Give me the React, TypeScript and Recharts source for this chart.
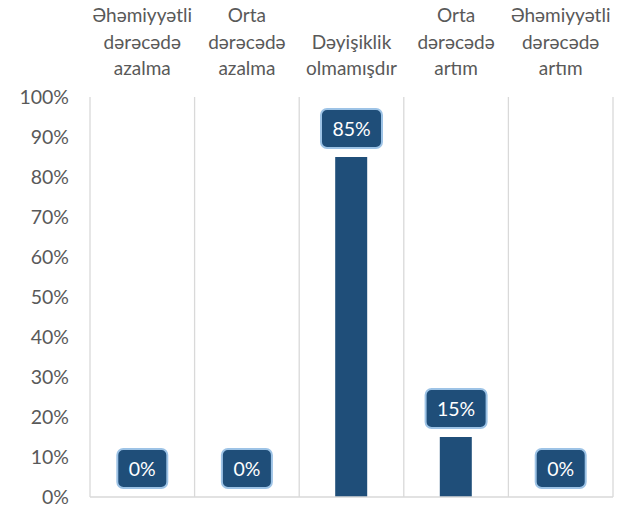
import React from "react";
import { ComposedChart, Bar, Line, XAxis, YAxis, CartesianGrid, LabelList, ReferenceLine } from "recharts";

const categories = [
  "Əhəmiyyətli dərəcədə azalma",
  "Orta dərəcədə azalma",
  "Dəyişiklik olmamışdır",
  "Orta dərəcədə artım",
  "Əhəmiyyətli dərəcədə artım",
];
const values = [0, 0, 0.85, 0.15, 0];
const yTicks = [0, 0.1, 0.2, 0.3, 0.4, 0.5, 0.6, 0.7, 0.8, 0.9, 1];
const gridTicks = [0, 1, 2, 3, 4, 5];

const data = categories.map((name, i) => ({ name, value: values[i], pos: i + 0.5 }));

const FONT = "Lato, 'Open Sans', sans-serif";
const TEXT = "#595959";
const BAR = "#1F4E79";

const CategoryTick = (props: any) => {
  const { x, y, payload } = props;
  const lines = String(payload.value).split(" ");
  const lh = 26.5;
  return (
    <g>
      {lines.map((l, k) => (
        <text
          key={k}
          x={x}
          y={y - 22 - (lines.length - 1 - k) * lh}
          textAnchor="middle"
          fontFamily={FONT}
          fontSize={19}
          fill={TEXT}
        >
          {l}
        </text>
      ))}
    </g>
  );
};

const BoxLabel = (props: any) => {
  const { x, y, width, value } = props;
  const txt = `${Math.round(value * 100)}%`;
  const w = 50 + (txt.length - 2) * 11;
  const h = 39;
  const cx = width ? x + width / 2 : x;
  const bottom = y - 9;
  return (
    <g>
      <rect x={cx - w / 2} y={bottom - h} width={w} height={h} rx={6} ry={6} fill={BAR} stroke="#9DC3E6" strokeWidth={2} />
      <text x={cx} y={bottom - h / 2 + 7} textAnchor="middle" fontFamily={FONT} fontSize={19.5} fill="#FFFFFF">
        {txt}
      </text>
    </g>
  );
};

export default function App() {
  return (
    <div style={{ margin: -8 }}>
      <ComposedChart width={627} height={512} data={data} margin={{ top: 0, right: 14, bottom: 15, left: 0 }}>
        <XAxis xAxisId="grid" type="number" dataKey="pos" domain={[0, 5]} ticks={gridTicks} hide />
        <CartesianGrid xAxisId="grid" horizontal={false} stroke="#D9D9D9" strokeWidth={1.3} />
        <XAxis
          xAxisId="cat"
          dataKey="name"
          orientation="top"
          height={97}
          axisLine={false}
          tickLine={false}
          tickSize={0}
          tickMargin={0}
          interval={0}
          tick={<CategoryTick />}
        />
        <YAxis
          width={90}
          domain={[0, 1]}
          ticks={yTicks}
          tickFormatter={(v: number) => `${Math.round(v * 100)}%`}
          axisLine={false}
          tickLine={false}
          tickSize={6}
          tickMargin={15}
          tick={{ fontFamily: FONT, fontSize: 19.5, fill: TEXT }}
          interval={0}
        />
        <ReferenceLine xAxisId="cat" y={0} stroke="#D9D9D9" strokeWidth={1.3} />
        <Bar xAxisId="cat" dataKey="value" fill={BAR} barSize={32} isAnimationActive={false} />
        <Line
          xAxisId="cat"
          dataKey="value"
          stroke="none"
          dot={false}
          activeDot={false}
          legendType="none"
          isAnimationActive={false}
        >
          <LabelList dataKey="value" content={<BoxLabel />} />
        </Line>
      </ComposedChart>
    </div>
  );
}
